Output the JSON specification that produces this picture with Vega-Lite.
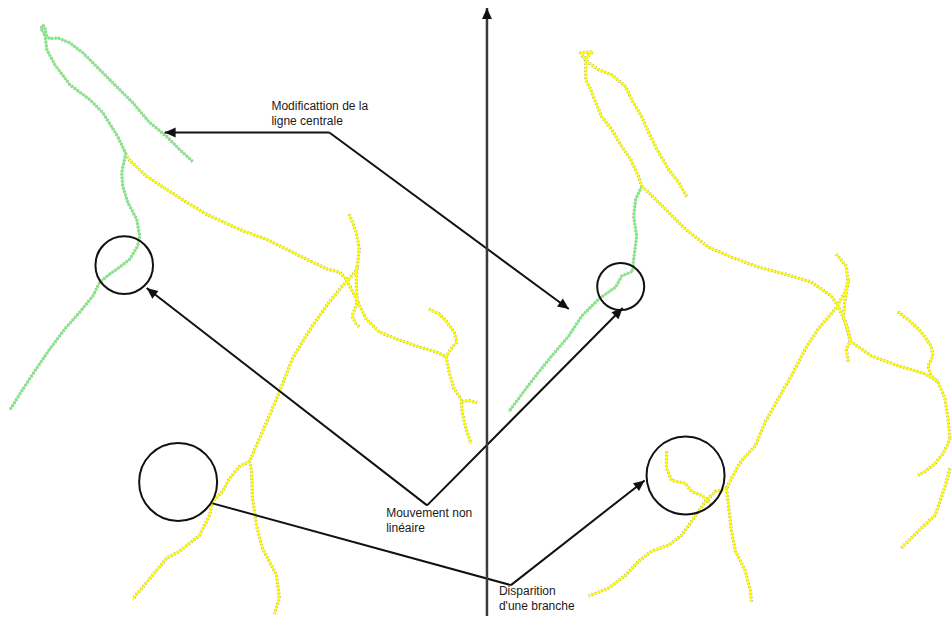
{
  "$schema": "https://vega.github.io/schema/vega-lite/v6.json",
  "width": 952,
  "height": 618,
  "autosize": {"type": "fit", "contains": "padding"},
  "padding": 0,
  "background": "white",
  "config": {"view": {"stroke": null}},
  "datasets": {
    "vessels": [
      {"b":"L1","c":"g","x":193,"y":162},{"b":"L1","c":"g","x":180,"y":150},{"b":"L1","c":"g","x":167,"y":137},{"b":"L1","c":"g","x":150,"y":123},{"b":"L1","c":"g","x":133,"y":103},{"b":"L1","c":"g","x":117,"y":87},{"b":"L1","c":"g","x":100,"y":70},{"b":"L1","c":"g","x":83,"y":53},{"b":"L1","c":"g","x":70,"y":43},{"b":"L1","c":"g","x":58,"y":38},{"b":"L1","c":"g","x":50,"y":39},{"b":"L1","c":"g","x":44,"y":33},{"b":"L1","c":"g","x":41,"y":29},{"b":"L1","c":"g","x":43,"y":25},{"b":"L1","c":"g","x":46,"y":30},{"b":"L1","c":"g","x":45,"y":35},{"b":"L1","c":"g","x":47,"y":50},{"b":"L1","c":"g","x":55,"y":65},{"b":"L1","c":"g","x":70,"y":85},{"b":"L1","c":"g","x":90,"y":100},{"b":"L1","c":"g","x":103,"y":113},{"b":"L1","c":"g","x":118,"y":137},{"b":"L1","c":"g","x":126,"y":154},{"b":"L1","c":"g","x":122,"y":173},{"b":"L1","c":"g","x":123,"y":187},{"b":"L1","c":"g","x":128,"y":203},{"b":"L1","c":"g","x":137,"y":220},{"b":"L1","c":"g","x":140,"y":237},{"b":"L1","c":"g","x":138,"y":247},{"b":"L1","c":"g","x":130,"y":260},{"b":"L1","c":"g","x":120,"y":268},{"b":"L1","c":"g","x":110,"y":275},{"b":"L1","c":"g","x":100,"y":283},{"b":"L1","c":"g","x":93,"y":297},{"b":"L1","c":"g","x":80,"y":313},{"b":"L1","c":"g","x":65,"y":330},{"b":"L1","c":"g","x":50,"y":350},{"b":"L1","c":"g","x":35,"y":372},{"b":"L1","c":"g","x":22,"y":392},{"b":"L1","c":"g","x":10,"y":411},

      {"b":"L2","c":"y","x":127,"y":157},{"b":"L2","c":"y","x":130,"y":161},{"b":"L2","c":"y","x":147,"y":177},{"b":"L2","c":"y","x":167,"y":190},{"b":"L2","c":"y","x":187,"y":203},{"b":"L2","c":"y","x":207,"y":215},{"b":"L2","c":"y","x":233,"y":227},{"b":"L2","c":"y","x":247,"y":233},{"b":"L2","c":"y","x":267,"y":240},{"b":"L2","c":"y","x":287,"y":250},{"b":"L2","c":"y","x":307,"y":260},{"b":"L2","c":"y","x":328,"y":270},{"b":"L2","c":"y","x":340,"y":273},{"b":"L2","c":"y","x":347,"y":280},{"b":"L2","c":"y","x":357,"y":300},{"b":"L2","c":"y","x":367,"y":320},{"b":"L2","c":"y","x":380,"y":333},{"b":"L2","c":"y","x":397,"y":340},{"b":"L2","c":"y","x":417,"y":347},{"b":"L2","c":"y","x":437,"y":353},{"b":"L2","c":"y","x":447,"y":358},{"b":"L2","c":"y","x":450,"y":373},{"b":"L2","c":"y","x":455,"y":390},{"b":"L2","c":"y","x":462,"y":400},{"b":"L2","c":"y","x":463,"y":413},{"b":"L2","c":"y","x":467,"y":430},{"b":"L2","c":"y","x":472,"y":445},

      {"b":"L3","c":"y","x":430,"y":310},{"b":"L3","c":"y","x":440,"y":315},{"b":"L3","c":"y","x":447,"y":322},{"b":"L3","c":"y","x":455,"y":333},{"b":"L3","c":"y","x":458,"y":343},{"b":"L3","c":"y","x":452,"y":350},{"b":"L3","c":"y","x":447,"y":358},

      {"b":"L4","c":"y","x":463,"y":403},{"b":"L4","c":"y","x":470,"y":402},{"b":"L4","c":"y","x":478,"y":404},

      {"b":"L5","c":"y","x":350,"y":215},{"b":"L5","c":"y","x":357,"y":233},{"b":"L5","c":"y","x":360,"y":250},{"b":"L5","c":"y","x":358,"y":267},{"b":"L5","c":"y","x":357,"y":283},{"b":"L5","c":"y","x":358,"y":303},{"b":"L5","c":"y","x":353,"y":317},{"b":"L5","c":"y","x":356,"y":324},{"b":"L5","c":"y","x":360,"y":328},

      {"b":"L6","c":"y","x":358,"y":268},{"b":"L6","c":"y","x":356,"y":273},{"b":"L6","c":"y","x":343,"y":287},{"b":"L6","c":"y","x":330,"y":303},{"b":"L6","c":"y","x":313,"y":327},{"b":"L6","c":"y","x":303,"y":343},{"b":"L6","c":"y","x":293,"y":360},{"b":"L6","c":"y","x":280,"y":393},{"b":"L6","c":"y","x":270,"y":417},{"b":"L6","c":"y","x":260,"y":440},{"b":"L6","c":"y","x":250,"y":463},{"b":"L6","c":"y","x":240,"y":468},{"b":"L6","c":"y","x":230,"y":480},{"b":"L6","c":"y","x":223,"y":493},{"b":"L6","c":"y","x":213,"y":503},{"b":"L6","c":"y","x":210,"y":517},{"b":"L6","c":"y","x":200,"y":537},{"b":"L6","c":"y","x":180,"y":553},{"b":"L6","c":"y","x":167,"y":560},{"b":"L6","c":"y","x":153,"y":577},{"b":"L6","c":"y","x":133,"y":601},

      {"b":"L7","c":"y","x":251,"y":466},{"b":"L7","c":"y","x":252,"y":472},{"b":"L7","c":"y","x":253,"y":500},{"b":"L7","c":"y","x":257,"y":527},{"b":"L7","c":"y","x":263,"y":550},{"b":"L7","c":"y","x":277,"y":577},{"b":"L7","c":"y","x":280,"y":600},{"b":"L7","c":"y","x":275,"y":616},

      {"b":"R1","c":"y","x":688,"y":197},{"b":"R1","c":"y","x":680,"y":183},{"b":"R1","c":"y","x":670,"y":170},{"b":"R1","c":"y","x":660,"y":153},{"b":"R1","c":"y","x":650,"y":133},{"b":"R1","c":"y","x":643,"y":117},{"b":"R1","c":"y","x":633,"y":100},{"b":"R1","c":"y","x":627,"y":87},{"b":"R1","c":"y","x":613,"y":75},{"b":"R1","c":"y","x":600,"y":70},{"b":"R1","c":"y","x":590,"y":63},{"b":"R1","c":"y","x":584,"y":57},{"b":"R1","c":"y","x":582,"y":53},{"b":"R1","c":"y","x":594,"y":52},{"b":"R1","c":"y","x":587,"y":58},{"b":"R1","c":"y","x":587,"y":65},{"b":"R1","c":"y","x":587,"y":80},{"b":"R1","c":"y","x":592,"y":90},{"b":"R1","c":"y","x":597,"y":103},{"b":"R1","c":"y","x":603,"y":117},{"b":"R1","c":"y","x":613,"y":130},{"b":"R1","c":"y","x":623,"y":147},{"b":"R1","c":"y","x":632,"y":160},{"b":"R1","c":"y","x":640,"y":177},{"b":"R1","c":"y","x":643,"y":187},

      {"b":"R2","c":"g","x":643,"y":187},{"b":"R2","c":"g","x":637,"y":200},{"b":"R2","c":"g","x":635,"y":217},{"b":"R2","c":"g","x":638,"y":237},{"b":"R2","c":"g","x":635,"y":260},{"b":"R2","c":"g","x":634,"y":272},{"b":"R2","c":"g","x":623,"y":277},{"b":"R2","c":"g","x":617,"y":288},{"b":"R2","c":"g","x":607,"y":295},{"b":"R2","c":"g","x":600,"y":300},{"b":"R2","c":"g","x":583,"y":317},{"b":"R2","c":"g","x":570,"y":337},{"b":"R2","c":"g","x":553,"y":357},{"b":"R2","c":"g","x":540,"y":373},{"b":"R2","c":"g","x":527,"y":390},{"b":"R2","c":"g","x":510,"y":413},

      {"b":"R3","c":"y","x":643,"y":187},{"b":"R3","c":"y","x":650,"y":193},{"b":"R3","c":"y","x":667,"y":210},{"b":"R3","c":"y","x":687,"y":230},{"b":"R3","c":"y","x":710,"y":248},{"b":"R3","c":"y","x":733,"y":258},{"b":"R3","c":"y","x":760,"y":268},{"b":"R3","c":"y","x":787,"y":275},{"b":"R3","c":"y","x":813,"y":283},{"b":"R3","c":"y","x":833,"y":297},{"b":"R3","c":"y","x":840,"y":307},{"b":"R3","c":"y","x":847,"y":323},{"b":"R3","c":"y","x":853,"y":343},{"b":"R3","c":"y","x":873,"y":357},{"b":"R3","c":"y","x":900,"y":367},{"b":"R3","c":"y","x":927,"y":375},{"b":"R3","c":"y","x":940,"y":383},{"b":"R3","c":"y","x":947,"y":400},{"b":"R3","c":"y","x":950,"y":420},{"b":"R3","c":"y","x":952,"y":440},

      {"b":"R4","c":"y","x":900,"y":313},{"b":"R4","c":"y","x":913,"y":323},{"b":"R4","c":"y","x":923,"y":333},{"b":"R4","c":"y","x":933,"y":347},{"b":"R4","c":"y","x":935,"y":357},{"b":"R4","c":"y","x":930,"y":367},{"b":"R4","c":"y","x":933,"y":377},{"b":"R4","c":"y","x":940,"y":383},

      {"b":"R5","c":"y","x":920,"y":477},{"b":"R5","c":"y","x":927,"y":473},{"b":"R5","c":"y","x":937,"y":465},{"b":"R5","c":"y","x":945,"y":455},{"b":"R5","c":"y","x":950,"y":445},{"b":"R5","c":"y","x":952,"y":440},

      {"b":"R6","c":"y","x":952,"y":470},{"b":"R6","c":"y","x":948,"y":485},{"b":"R6","c":"y","x":943,"y":500},{"b":"R6","c":"y","x":937,"y":517},{"b":"R6","c":"y","x":923,"y":530},{"b":"R6","c":"y","x":913,"y":540},{"b":"R6","c":"y","x":903,"y":550},

      {"b":"R7","c":"y","x":838,"y":255},{"b":"R7","c":"y","x":848,"y":267},{"b":"R7","c":"y","x":850,"y":283},{"b":"R7","c":"y","x":847,"y":300},{"b":"R7","c":"y","x":845,"y":317},{"b":"R7","c":"y","x":850,"y":333},{"b":"R7","c":"y","x":852,"y":343},{"b":"R7","c":"y","x":848,"y":350},{"b":"R7","c":"y","x":850,"y":363},

      {"b":"R8","c":"y","x":850,"y":280},{"b":"R8","c":"y","x":847,"y":293},{"b":"R8","c":"y","x":837,"y":310},{"b":"R8","c":"y","x":820,"y":330},{"b":"R8","c":"y","x":807,"y":350},{"b":"R8","c":"y","x":793,"y":377},{"b":"R8","c":"y","x":780,"y":400},{"b":"R8","c":"y","x":767,"y":423},{"b":"R8","c":"y","x":757,"y":447},{"b":"R8","c":"y","x":745,"y":460},{"b":"R8","c":"y","x":740,"y":467},{"b":"R8","c":"y","x":733,"y":480},{"b":"R8","c":"y","x":728,"y":490},

      {"b":"R9","c":"y","x":728,"y":490},{"b":"R9","c":"y","x":730,"y":507},{"b":"R9","c":"y","x":733,"y":533},{"b":"R9","c":"y","x":737,"y":553},{"b":"R9","c":"y","x":747,"y":573},{"b":"R9","c":"y","x":752,"y":593},{"b":"R9","c":"y","x":753,"y":604},

      {"b":"R10","c":"y","x":728,"y":490},{"b":"R10","c":"y","x":717,"y":493},{"b":"R10","c":"y","x":707,"y":503},{"b":"R10","c":"y","x":700,"y":513},{"b":"R10","c":"y","x":693,"y":523},{"b":"R10","c":"y","x":683,"y":537},{"b":"R10","c":"y","x":670,"y":547},{"b":"R10","c":"y","x":653,"y":553},{"b":"R10","c":"y","x":640,"y":563},{"b":"R10","c":"y","x":627,"y":577},{"b":"R10","c":"y","x":610,"y":590},{"b":"R10","c":"y","x":590,"y":598},

      {"b":"R11","c":"y","x":668,"y":453},{"b":"R11","c":"y","x":668,"y":470},{"b":"R11","c":"y","x":673,"y":482},{"b":"R11","c":"y","x":687,"y":485},{"b":"R11","c":"y","x":693,"y":493},{"b":"R11","c":"y","x":703,"y":497},{"b":"R11","c":"y","x":708,"y":501},{"b":"R11","c":"y","x":712,"y":506}
    ],
    "circles": [
      {"kind":"medium","x":124.5,"y":266},
      {"kind":"large","x":178.5,"y":483.5},
      {"kind":"small","x":622,"y":287.5},
      {"kind":"large","x":687,"y":477}
    ],
    "notes": [
      {"k":"note","h":1,"x":330,"y":133,"x2":165,"y2":133},
      {"k":"note","h":1,"x":330,"y":133,"x2":570,"y2":310},
      {"k":"note","h":1,"x":428,"y":507,"x2":147,"y2":289},
      {"k":"note","h":1,"x":428,"y":507,"x2":624,"y2":309},
      {"k":"note","h":0,"x":213,"y":505,"x2":512,"y2":587},
      {"k":"note","h":1,"x":512,"y":587,"x2":646,"y2":482},
      {"k":"axis","h":1,"x":488,"y":618,"x2":488,"y2":8}
    ],
    "labels": [
      {"t":"Modificattion de la","x":272,"y":101},
      {"t":"ligne centrale","x":272,"y":116},
      {"t":"Mouvement non","x":387,"y":510},
      {"t":"linéaire","x":387,"y":525},
      {"t":"Disparition","x":500,"y":588},
      {"t":"d'une branche","x":500,"y":603}
    ]
  },
  "encoding": {
    "x": {"field": "x", "type": "quantitative", "scale": {"domain": [0, 952], "nice": false, "zero": false}, "axis": null},
    "y": {"field": "y", "type": "quantitative", "scale": {"domain": [0, 618], "nice": false, "zero": false, "reverse": true}, "axis": null}
  },
  "layer": [
    {
      "data": {"name": "vessels"},
      "mark": {"type": "line", "stroke": "#9a9a9a", "strokeWidth": 3.2, "strokeDash": [1.5, 2], "opacity": 0.9, "strokeJoin": "round"},
      "encoding": {"detail": {"field": "b"}, "order": {"value": null}}
    },
    {
      "data": {"name": "vessels"},
      "mark": {"type": "line", "strokeWidth": 2, "strokeJoin": "round", "opacity": 0.95},
      "encoding": {
        "detail": {"field": "b"},
        "order": {"value": null},
        "color": {"field": "c", "type": "nominal", "scale": {"domain": ["g", "y"], "range": ["#80f080", "#ffff00"]}, "legend": null}
      }
    },
    {
      "data": {"name": "circles"},
      "transform": [{"filter": "datum.kind == 'small'"}],
      "mark": {"type": "point", "shape": "circle", "filled": false, "stroke": "#111111", "strokeWidth": 2, "opacity": 1, "size": 2209}
    },
    {
      "data": {"name": "circles"},
      "transform": [{"filter": "datum.kind == 'medium'"}],
      "mark": {"type": "point", "shape": "circle", "filled": false, "stroke": "#111111", "strokeWidth": 2, "opacity": 1, "size": 3318}
    },
    {
      "data": {"name": "circles"},
      "transform": [{"filter": "datum.kind == 'large'"}],
      "mark": {"type": "point", "shape": "circle", "filled": false, "stroke": "#111111", "strokeWidth": 2, "opacity": 1, "size": 6084}
    },
    {
      "data": {"name": "notes"},
      "transform": [{"filter": "datum.k == 'note'"}],
      "mark": {"type": "rule", "stroke": "#111111", "strokeWidth": 2},
      "encoding": {"x2": {"field": "x2"}, "y2": {"field": "y2"}}
    },
    {
      "data": {"name": "notes"},
      "transform": [{"filter": "datum.k == 'axis'"}],
      "mark": {"type": "rule", "stroke": "#3a3a3a", "strokeWidth": 2.5},
      "encoding": {"x2": {"field": "x2"}, "y2": {"field": "y2"}}
    },
    {
      "data": {"name": "notes"},
      "transform": [
        {"filter": "datum.h == 1"},
        {"calculate": "atan2(datum.x2 - datum.x, datum.y - datum.y2) * 180 / PI", "as": "ang"}
      ],
      "mark": {"type": "point", "shape": "M0,0L-0.45,1L0.45,1Z", "filled": true, "fill": "#111111", "stroke": null, "size": 484, "opacity": 1},
      "encoding": {
        "x": {"field": "x2", "type": "quantitative"},
        "y": {"field": "y2", "type": "quantitative"},
        "angle": {"field": "ang", "type": "quantitative", "scale": null}
      }
    },
    {
      "data": {"name": "labels"},
      "mark": {"type": "text", "align": "left", "baseline": "top", "font": "Liberation Sans", "fontSize": 12, "fill": "#1a1a1a"},
      "encoding": {"text": {"field": "t"}}
    }
  ]
}
